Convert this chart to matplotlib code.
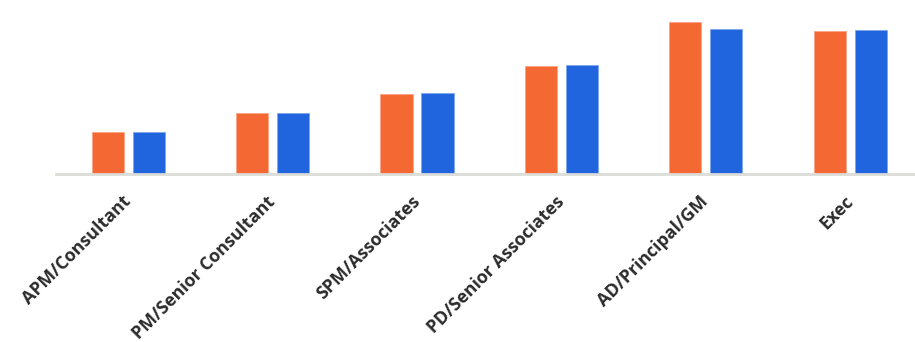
import matplotlib.pyplot as plt
import numpy as np

categories = ["APM/Consultant", "PM/Senior Consultant", "SPM/Associates",
              "PD/Senior Associates", "AD/Principal/GM", "Exec"]
series_a = [41.7, 61.3, 80.0, 108.0, 152.0, 142.7]
series_b = [42.3, 61.0, 81.3, 109.0, 145.3, 144.0]

plt.rcParams['font.family'] = ['Open Sans', 'DejaVu Sans']

fig = plt.figure(figsize=(9.15, 3.42), dpi=100)
# axes spans slightly past the right edge, like the original
ax = fig.add_axes([56 / 915, 1 - 174 / 342, 866.4 / 915, 174 / 342])

x = np.arange(len(categories))
w = 0.224
off = 0.142
ax.bar(x - off, series_a, w, color="#F46834", edgecolor="#F9A383", linewidth=0.6)
ax.bar(x + off, series_b, w, color="#2064DE", edgecolor="#7FA6EC", linewidth=0.6)

ax.set_xlim(-0.5, len(categories) - 0.5)
ax.set_ylim(0, 174)

for s in ["top", "right", "left"]:
    ax.spines[s].set_visible(False)
ax.spines["bottom"].set_color("#DCDCD8")
ax.spines["bottom"].set_linewidth(2)
ax.set_yticks([])
ax.set_xticks(x)
ax.set_xticklabels(categories, rotation=45, ha="right", va="center",
                   rotation_mode="anchor", fontsize=12.8, fontweight="bold",
                   color="#2B2B2B")
ax.tick_params(axis="x", length=0, pad=18)

fig.savefig("out.png", dpi=100)
